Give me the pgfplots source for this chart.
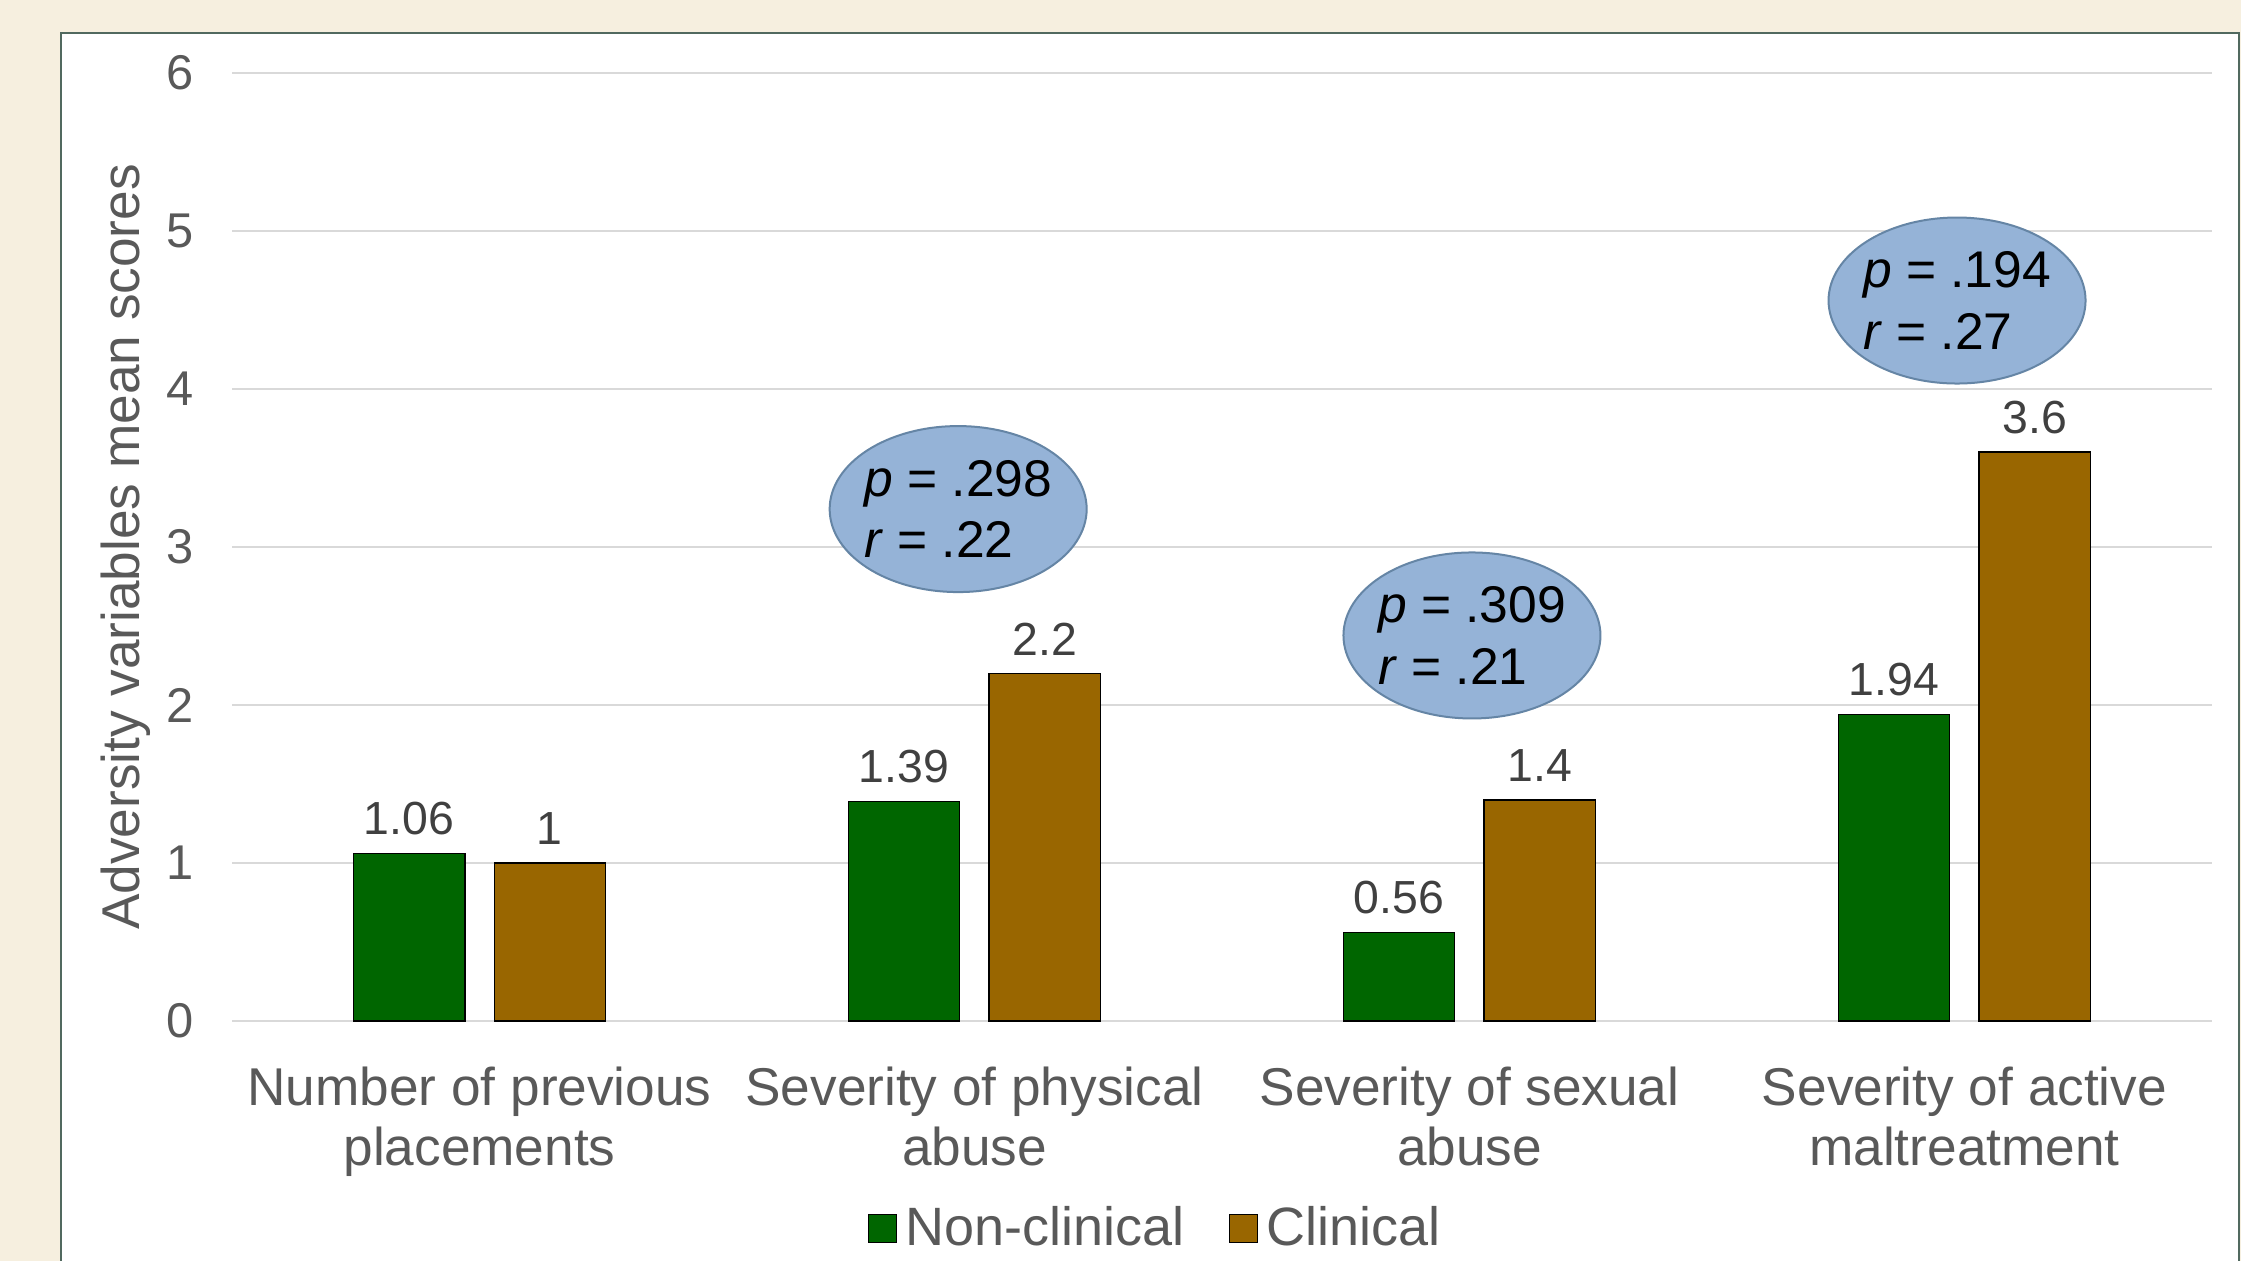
\documentclass[border=0pt]{standalone}
\usepackage{pgfplots}
\pgfplotsset{compat=1.18}
\usepackage{fontspec}
\setmainfont{Liberation Sans}
\usetikzlibrary{shapes.geometric}
\definecolor{bgbeige}{HTML}{F6EFDF}
\definecolor{panelborder}{HTML}{51695F}
\definecolor{ncgreen}{HTML}{006600}
\definecolor{clbrown}{HTML}{996600}
\definecolor{gridgray}{HTML}{D9D9D9}
\definecolor{labgray}{HTML}{595959}
\definecolor{datgray}{HTML}{404040}
\definecolor{ellfill}{HTML}{95B3D7}
\definecolor{elldraw}{HTML}{6585A5}
\begin{document}
\begin{tikzpicture}
\useasboundingbox (0,0) rectangle (560.25pt,315.25pt);
\fill[bgbeige] (0,0) rectangle (560.25pt,315.25pt);
\filldraw[fill=white, draw=panelborder, line width=0.7pt] (15.25pt,-5pt) rectangle (559.75pt,307pt);
\begin{axis}[
  at={(58pt,60pt)}, anchor=south west,
  scale only axis, width=495pt, height=237pt,
  xmin=-0.5, xmax=3.5, ymin=0, ymax=6,
  ytick={0,1,2,3,4,5,6},
  xtick={0,1,2,3},
  xticklabels={{Number of previous\\placements},{Severity of physical\\abuse},{Severity of sexual\\abuse},{Severity of active\\maltreatment}},
  xticklabel style={align=center, font=\fontsize{13.3}{15}\selectfont, text=labgray, yshift=-8pt},
  yticklabel style={font=\fontsize{12.2}{14}\selectfont, text=labgray, xshift=-6pt},
  /pgf/number format/assume math mode=true,
  major tick length=0pt,
  axis line style={draw=none},
  ymajorgrids, grid style={gridgray, line width=0.5pt},
  ybar, bar width=27.8pt,
  nodes near coords,
  nodes near coords style={font=\fontsize{11.6}{13}\selectfont, text=datgray, anchor=south, yshift=1pt},
  legend columns=2,
  legend style={at={(rel axis cs:0.4677,-0.219)}, anchor=center, draw=none, fill=none,
    font=\fontsize{13.5}{15}\selectfont, text=labgray,
    /tikz/every even column/.append style={column sep=9pt}},
  legend image code/.code={\draw[#1, draw=black, line width=0.4pt] (0pt,-3.5pt) rectangle (7pt,3.5pt);},
  clip=false,
]
\addplot[fill=ncgreen, draw=black, line width=0.4pt, bar shift=-17.6pt] coordinates {(0,1.06) (1,1.39) (2,0.56) (3,1.94)};
\addplot[fill=clbrown, draw=black, line width=0.4pt, bar shift=17.6pt] coordinates {(0,1) (1,2.2) (2,1.4) (3,3.6)};
\legend{Non-clinical, Clinical}
\node[ellipse, fill=ellfill, draw=elldraw, line width=0.5pt, minimum width=64.25pt, minimum height=41.5pt, inner sep=0pt] at (axis cs:0.967,3.24) {};
\node[align=left, font=\fontsize{12.9}{15.4}\selectfont, text=black] at (axis cs:0.967,3.24) {\textit{p} = .298\\\textit{r} = .22};
\node[ellipse, fill=ellfill, draw=elldraw, line width=0.5pt, minimum width=64.25pt, minimum height=41.5pt, inner sep=0pt] at (axis cs:2.005,2.44) {};
\node[align=left, font=\fontsize{12.9}{15.4}\selectfont, text=black] at (axis cs:2.005,2.44) {\textit{p} = .309\\\textit{r} = .21};
\node[ellipse, fill=ellfill, draw=elldraw, line width=0.5pt, minimum width=64.25pt, minimum height=41.5pt, inner sep=0pt] at (axis cs:2.985,4.56) {};
\node[align=left, font=\fontsize{12.9}{15.4}\selectfont, text=black] at (axis cs:2.985,4.56) {\textit{p} = .194\\\textit{r} = .27};
\end{axis}
\node[rotate=90, font=\fontsize{13.3}{15}\selectfont, text=labgray] at (31.5pt,178.5pt) {Adversity variables mean scores};
\end{tikzpicture}
\end{document}
